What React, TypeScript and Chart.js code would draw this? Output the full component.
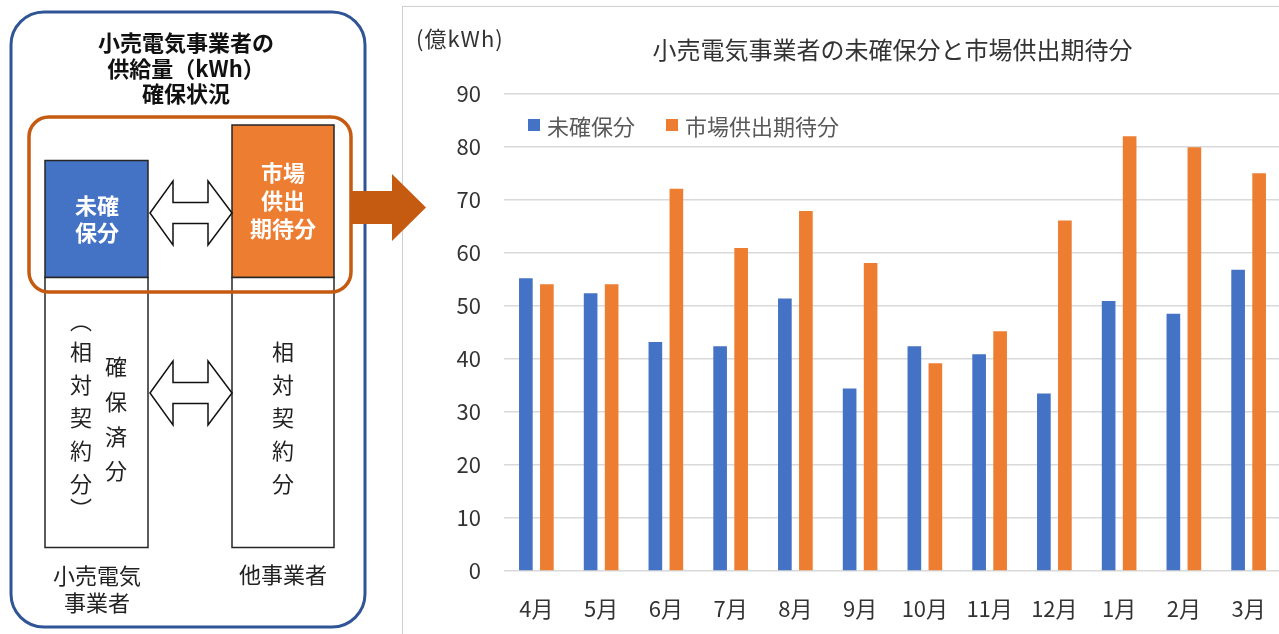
import React, { useEffect, useRef } from "react";
import { Chart, registerables } from "chart.js";

Chart.register(...registerables);

// ---- data ----
const months = ["4月", "5月", "6月", "7月", "8月", "9月", "10月", "11月", "12月", "1月", "2月", "3月"];
const unsecured = [55.2, 52.4, 43.2, 42.4, 51.4, 34.4, 42.4, 40.9, 33.5, 50.9, 48.5, 56.8];
const marketExpected = [54.1, 54.1, 72.1, 60.9, 67.9, 58.1, 39.2, 45.2, 66.1, 82.0, 79.9, 75.0];
const seriesNames = ["未確保分", "市場供出期待分"];
const seriesColors = ["#4472C4", "#ED7D31"];
const yMin = 0;
const yMax = 90;
const yStep = 10;
const chartTitle = "小売電気事業者の未確保分と市場供出期待分";
const unitLabel = "(億kWh)";

// left diagram texts
const diagramTitle = ["小売電気事業者の", "供給量（kWh）", "確保状況"];
const blueBoxText = ["未確", "保分"];
const orangeBoxText = ["市場", "供出", "期待分"];
const leftColA = ["︵", "相", "対", "契", "約", "分", "︶"];
const leftColB = ["確", "保", "済", "分"];
const rightCol = ["相", "対", "契", "約", "分"];
const bottomLeft = ["小売電気", "事業者"];
const bottomRight = ["他事業者"];

const FONT = "'Noto Sans CJK JP', 'Noto Sans', sans-serif";

function Diagram() {
  const t = { fontFamily: FONT } as React.CSSProperties;
  const dbl = (yc: number) => {
    const hh = 32, sh = 10.5;
    const x1 = 150, x2 = 173, x3 = 208, x4 = 232;
    return `M${x1},${yc} L${x2},${yc - hh} L${x2},${yc - sh} L${x3},${yc - sh} L${x3},${yc - hh} L${x4},${yc} L${x3},${yc + hh} L${x3},${yc + sh} L${x2},${yc + sh} L${x2},${yc + hh} Z`;
  };
  const colAy = [319, 350, 383, 416, 449, 482, 507];
  const colBy = [365, 400, 435, 469];
  const colRy = [350, 383, 416, 449, 482];
  return (
    <svg width={1279} height={634} style={{ position: "absolute", left: 0, top: 0, zIndex: 3, pointerEvents: "none" }}>
      <rect x={11} y={12} width={354} height={615} rx={33} fill="#ffffff" stroke="#2F5597" strokeWidth={3} />
      {diagramTitle.map((s, i) => (
        <text key={"t" + i} x={186} y={41 + i * 25.5} textAnchor="middle" dominantBaseline="central" fontSize={22} fontWeight={700} fill="#111" style={t}>{s}</text>
      ))}
      <rect x={232} y={125} width={102} height={152.5} fill="#ED7D31" stroke="#262626" strokeWidth={1.5} />
      <rect x={45} y={160.5} width={103} height={117} fill="#4472C4" stroke="#262626" strokeWidth={1.5} />
      <rect x={45} y={277.5} width={103} height={270} fill="#ffffff" stroke="#262626" strokeWidth={1.5} />
      <rect x={232} y={277.5} width={102} height={270} fill="#ffffff" stroke="#262626" strokeWidth={1.5} />
      {blueBoxText.map((s, i) => (
        <text key={"b" + i} x={97} y={204 + i * 27} textAnchor="middle" dominantBaseline="central" fontSize={22} fontWeight={700} fill="#fff" style={t}>{s}</text>
      ))}
      {orangeBoxText.map((s, i) => (
        <text key={"o" + i} x={283} y={171 + i * 28} textAnchor="middle" dominantBaseline="central" fontSize={22} fontWeight={700} fill="#fff" style={t}>{s}</text>
      ))}
      <path d={dbl(213)} fill="#fff" stroke="#111" strokeWidth={1.5} />
      <path d={dbl(393)} fill="#fff" stroke="#111" strokeWidth={1.5} />
      {leftColA.map((s, i) => (
        <text key={"a" + i} x={81} y={colAy[i]} textAnchor="middle" dominantBaseline="central" fontSize={22} fill="#222" style={t}>{s}</text>
      ))}
      {leftColB.map((s, i) => (
        <text key={"c" + i} x={116} y={colBy[i]} textAnchor="middle" dominantBaseline="central" fontSize={22} fill="#222" style={t}>{s}</text>
      ))}
      {rightCol.map((s, i) => (
        <text key={"r" + i} x={283} y={colRy[i]} textAnchor="middle" dominantBaseline="central" fontSize={22} fill="#222" style={t}>{s}</text>
      ))}
      {bottomLeft.map((s, i) => (
        <text key={"bl" + i} x={97} y={574 + i * 27} textAnchor="middle" dominantBaseline="central" fontSize={22} fill="#222" style={t}>{s}</text>
      ))}
      {bottomRight.map((s, i) => (
        <text key={"br" + i} x={283} y={573 + i * 27} textAnchor="middle" dominantBaseline="central" fontSize={22} fill="#222" style={t}>{s}</text>
      ))}
      <rect x={29} y={117} width={322} height={175} rx={20} fill="none" stroke="#C55A11" strokeWidth={3.5} />
      <path d="M351,191 L392,191 L392,174 L426,207.5 L392,241 L392,224 L351,224 Z" fill="#C55A11" />
    </svg>
  );
}

export default function App() {
  const canvasRef = useRef<HTMLCanvasElement | null>(null);

  useEffect(() => {
    if (!canvasRef.current) return;
    const chart = new Chart(canvasRef.current, {
      type: "bar",
      data: {
        labels: months,
        datasets: [
          {
            label: seriesNames[0],
            data: unsecured,
            backgroundColor: seriesColors[0],
            barPercentage: 0.65,
            categoryPercentage: 0.649,
          },
          {
            label: seriesNames[1],
            data: marketExpected,
            backgroundColor: seriesColors[1],
            barPercentage: 0.65,
            categoryPercentage: 0.649,
          },
        ],
      },
      options: {
        animation: false,
        responsive: true,
        maintainAspectRatio: false,
        layout: { padding: { left: 0, right: 2, top: 0, bottom: 0 } },
        plugins: {
          legend: { display: false },
          tooltip: { enabled: false },
          title: {
            display: true,
            text: chartTitle,
            fullSize: false,
            color: "#333333",
            font: { family: FONT, size: 24, weight: "normal", lineHeight: 1.2 },
            padding: { top: 28, bottom: 30 },
          },
        },
        scales: {
          x: {
            grid: { display: false },
            border: { display: false },
            ticks: {
              font: { family: FONT, size: 22 },
              color: "#333333",
              padding: 16,
              maxRotation: 0,
              autoSkip: false,
            },
            afterFit: (s: any) => {
              s.height = 63;
            },
          },
          y: {
            min: yMin,
            max: yMax,
            ticks: {
              stepSize: yStep,
              font: { family: FONT, size: 22 },
              color: "#333333",
              padding: 23,
            },
            grid: { color: "#D9D9D9", lineWidth: 1.5, drawTicks: false },
            border: { display: false },
            afterFit: (s: any) => {
              s.width = 101;
            },
          },
        },
      },
    });
    return () => chart.destroy();
  }, []);

  return (
    <div style={{ position: "absolute", left: 0, top: 0, width: 1279, height: 634, overflow: "hidden", background: "#fff", fontFamily: FONT }}>
      <div style={{ position: "absolute", left: 402, top: 6, width: 900, height: 660, borderLeft: "1px solid #CFCFCF", borderTop: "1px solid #CFCFCF", zIndex: 1 }}>
        <div style={{ position: "relative", width: 880, height: 627 }}>
          <canvas ref={canvasRef} />
        </div>
      </div>
      <div style={{ position: "absolute", left: 416, top: 37, transform: "translateY(-50%)", fontSize: 22, letterSpacing: 1, lineHeight: 1, color: "#333", zIndex: 2, whiteSpace: "nowrap" }}>{unitLabel}</div>
      <div style={{ position: "absolute", left: 528, top: 125, transform: "translateY(-50%)", display: "flex", alignItems: "center", zIndex: 2 }}>
        {seriesNames.map((n, i) => (
          <div key={n} style={{ display: "flex", alignItems: "center", marginRight: 31 }}>
            <span style={{ display: "inline-block", width: 12, height: 12, background: seriesColors[i], marginRight: 7 }} />
            <span style={{ fontSize: 22, lineHeight: 1, color: "#595959", whiteSpace: "nowrap" }}>{n}</span>
          </div>
        ))}
      </div>
      <Diagram />
    </div>
  );
}
